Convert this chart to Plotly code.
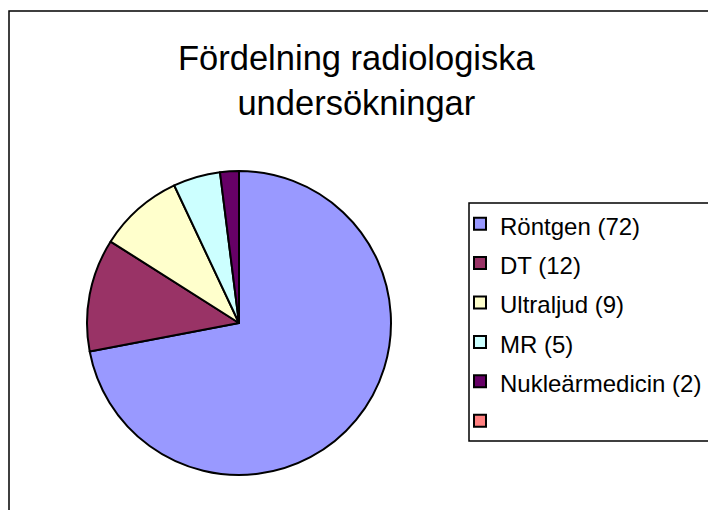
import plotly.graph_objects as go

# Data
categories = ["Röntgen", "DT", "Ultraljud", "MR", "Nukleärmedicin", ""]
values = [72, 12, 9, 5, 2, 0]
colors = ["#9999FF", "#993366", "#FFFFCC", "#CCFFFF", "#660066", "#FF8080"]
title_text = "Fördelning radiologiska<br>undersökningar"

W, H = 708, 510

def px_x(x):
    return x / W

def px_y(y):
    return 1 - y / H

legend_labels = []
for c, v in zip(categories, values):
    txt = f"{c} ({v})" if c else " "
    legend_labels.append(f"<span style='font-size:24px'>{txt}</span>")

fig = go.Figure()
fig.add_trace(go.Pie(
    labels=legend_labels,
    values=values,
    marker=dict(colors=colors, line=dict(color="black", width=2)),
    sort=False,
    direction="clockwise",
    rotation=0,
    textinfo="none",
    hoverinfo="none",
    domain=dict(x=[px_x(87), px_x(391)], y=[px_y(475), px_y(171)]),
))

shapes = [
    # outer chart frame (extends beyond right/bottom edges)
    dict(type="rect", xref="paper", yref="paper",
         x0=px_x(9), x1=px_x(760), y0=px_y(560), y1=px_y(11),
         line=dict(color="black", width=1.5), fillcolor="rgba(0,0,0,0)"),
    # legend frame
    dict(type="rect", xref="paper", yref="paper",
         x0=px_x(469), x1=px_x(760), y0=px_y(441), y1=px_y(203),
         line=dict(color="black", width=1.5), fillcolor="rgba(0,0,0,0)"),
]

fig.update_layout(
    width=W, height=H,
    margin=dict(l=0, r=0, t=0, b=0, autoexpand=False),
    paper_bgcolor="white",
    plot_bgcolor="white",
    font=dict(family="Liberation Sans, Arial, sans-serif", color="black"),
    legend=dict(
        x=px_x(460), xanchor="left", xref="container",
        y=px_y(199), yanchor="top", yref="container",
        font=dict(size=28, color="black"),
        bgcolor="rgba(0,0,0,0)", borderwidth=0,
    ),
    showlegend=True,
    shapes=shapes,
    annotations=[dict(
        text=title_text, xref="paper", yref="paper",
        x=px_x(357), y=px_y(80), xanchor="center", yanchor="middle",
        showarrow=False, font=dict(size=34.5, color="black"),
    )],
)

fig.write_html(
    "out.html",
    config={"displayModeBar": False},
    post_script="document.body.style.margin='0';document.body.style.overflow='hidden';",
)
